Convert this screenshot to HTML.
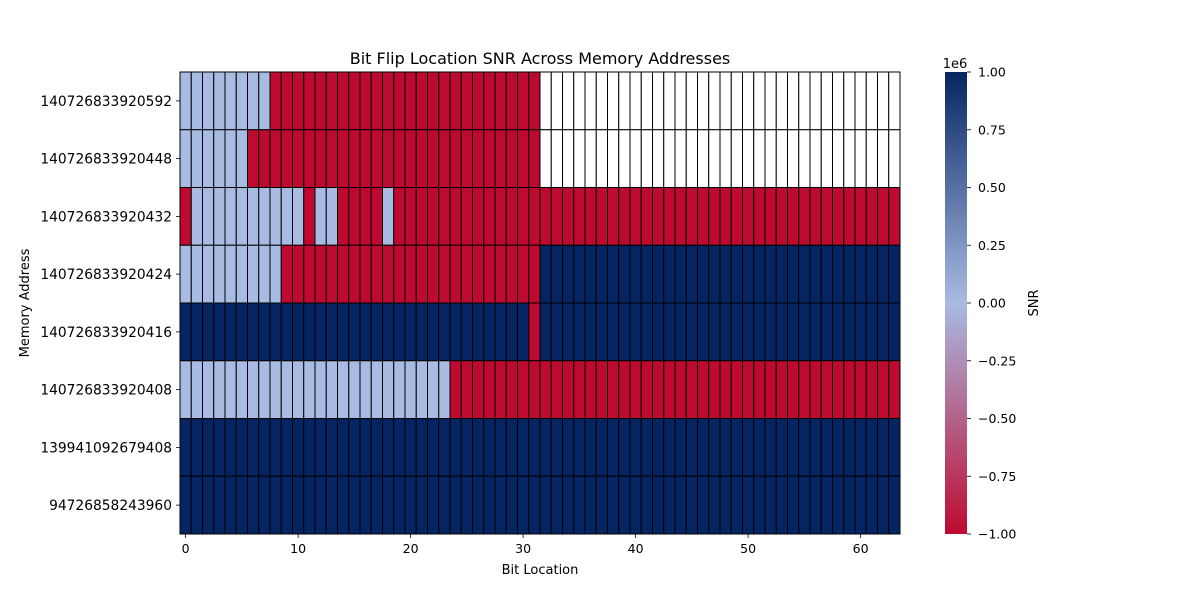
<!DOCTYPE html>
<html><head><meta charset="utf-8">
<style>
body{margin:0;background:#fff;font-family:"Liberation Sans","DejaVu Sans",sans-serif;}
svg text{font-family:"DejaVu Sans","Liberation Sans",sans-serif;fill:#000;}
</style></head>
<body>
<svg id="chart" width="1200" height="600" xmlns="http://www.w3.org/2000/svg">
<defs>
<linearGradient id="cbg" x1="0" y1="1" x2="0" y2="0">
<stop offset="0" stop-color="#be0a30"/>
<stop offset="0.5" stop-color="#a8bbe3"/>
<stop offset="1" stop-color="#052562"/>
</linearGradient>
</defs>
<text x="540" y="64" text-anchor="middle" font-size="16">Bit Flip Location SNR Across Memory Addresses</text>
<g id="cells"></g>
<g id="axes"></g>
<text x="540" y="574" text-anchor="middle" font-size="13">Bit Location</text>
<text transform="translate(29,303) rotate(-90)" text-anchor="middle" font-size="13">Memory Address</text>
<rect x="945" y="72" width="22" height="462" fill="url(#cbg)"/>
<text x="955" y="68" text-anchor="middle" font-size="13">1e6</text>
<text transform="translate(1038,303) rotate(-90)" text-anchor="middle" font-size="13">SNR</text>
<g id="cbticks"></g>
</svg>
<script>
const addresses=["140726833920592","140726833920448","140726833920432","140726833920424","140726833920416","140726833920408","139941092679408","94726858243960"];
// codes: L=0, R=-1e6, D=1e6, N=NaN ; one char per bit 0..63
const rowCodes=[
"LLLLLLLLRRRRRRRRRRRRRRRRRRRRRRRRNNNNNNNNNNNNNNNNNNNNNNNNNNNNNNNN",
"LLLLLLRRRRRRRRRRRRRRRRRRRRRRRRRRNNNNNNNNNNNNNNNNNNNNNNNNNNNNNNNN",
"RLLLLLLLLLLRLLRRRRLRRRRRRRRRRRRRRRRRRRRRRRRRRRRRRRRRRRRRRRRRRRRR",
"LLLLLLLLLRRRRRRRRRRRRRRRRRRRRRRRDDDDDDDDDDDDDDDDDDDDDDDDDDDDDDDD",
"DDDDDDDDDDDDDDDDDDDDDDDDDDDDDDDRDDDDDDDDDDDDDDDDDDDDDDDDDDDDDDDD",
"LLLLLLLLLLLLLLLLLLLLLLLLRRRRRRRRRRRRRRRRRRRRRRRRRRRRRRRRRRRRRRRR",
"DDDDDDDDDDDDDDDDDDDDDDDDDDDDDDDDDDDDDDDDDDDDDDDDDDDDDDDDDDDDDDDD",
"DDDDDDDDDDDDDDDDDDDDDDDDDDDDDDDDDDDDDDDDDDDDDDDDDDDDDDDDDDDDDDDD"];
const codeValues={L:0,R:-1e6,D:1e6,N:NaN};
const xTicks=[0,10,20,30,40,50,60];
const cbTicks=[1,0.75,0.5,0.25,0,-0.25,-0.5,-0.75,-1];
const cbLabels=["1.00","0.75","0.50","0.25","0.00","\u22120.25","\u22120.50","\u22120.75","\u22121.00"];

const X0=180,X1=900,Y0=72,Y1=534,NB=64;
const cw=(X1-X0)/NB, rh=(Y1-Y0)/addresses.length;
const xs=i=>X0+i*cw, ys=j=>Y0+j*rh;
const NS="http://www.w3.org/2000/svg";
function hex(c){return [parseInt(c.slice(1,3),16),parseInt(c.slice(3,5),16),parseInt(c.slice(5,7),16)];}
const cRed=hex("#be0a30"),cMid=hex("#a8bbe3"),cDark=hex("#052562");
function color(v){
  if(isNaN(v))return "#ffffff";
  let t=Math.max(-1,Math.min(1,v/1e6));
  let a,b,f; if(t<0){a=cMid;b=cRed;f=-t;}else{a=cMid;b=cDark;f=t;}
  const c=a.map((x,k)=>Math.round(x+(b[k]-x)*f));
  return `rgb(${c.join(",")})`;
}
const cells=document.getElementById("cells");
rowCodes.forEach((row,j)=>{
  for(let i=0;i<NB;i++){
    const v=codeValues[row[i]];
    const r=document.createElementNS(NS,"rect");
    r.setAttribute("x",xs(i));r.setAttribute("y",ys(j));
    r.setAttribute("width",cw);r.setAttribute("height",rh);
    r.setAttribute("fill",color(v));
    r.setAttribute("stroke","#000");r.setAttribute("stroke-width","1");
    
    
    cells.appendChild(r);
  }
});
const axes=document.getElementById("axes");
function line(x1,y1,x2,y2,p){const l=document.createElementNS(NS,"line");l.setAttribute("x1",x1);l.setAttribute("y1",y1);l.setAttribute("x2",x2);l.setAttribute("y2",y2);l.setAttribute("stroke","#000");l.setAttribute("stroke-width","0.8");p.appendChild(l);return l;}
function text(x,y,s,anchor,p,size){const t=document.createElementNS(NS,"text");t.setAttribute("x",x);t.setAttribute("y",y);t.setAttribute("text-anchor",anchor);t.setAttribute("font-size",size||12.5);t.textContent=s;p.appendChild(t);return t;}
xTicks.forEach(v=>{
  const x=xs(v)+cw/2;
  const l=line(x,Y1,x,Y1+4,axes);
  
  
  const t=text(x,Y1+19,String(v),"middle",axes);
  
  
});
addresses.forEach((a,j)=>{
  const y=ys(j)+rh/2;
  const l=line(X0-4,y,X0,y,axes);
  
  
  const t=text(X0-8,y+5,a,"end",axes,13.8);
  
  
});
const cbg=document.getElementById("cbticks");
cbTicks.forEach((v,k)=>{
  const y=Y1-(v+1)/2*(Y1-Y0);
  const l=line(967,y,971,y,cbg);
  
  
  const t=text(978,y+4.5,cbLabels[k],"start",cbg);
  
  
});
</script>
</body></html>
